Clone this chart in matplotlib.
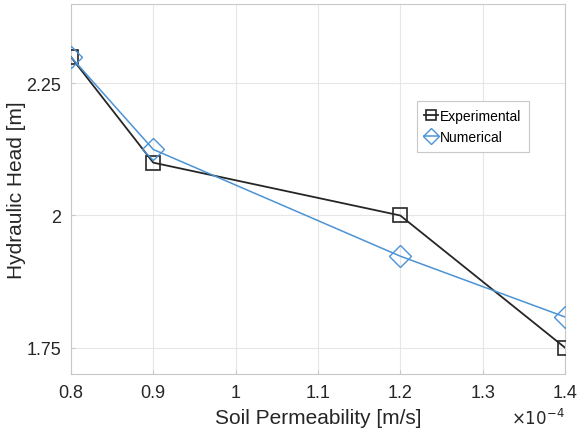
import matplotlib.pyplot as plt
from matplotlib.ticker import FuncFormatter

# soil permeability (m/s) and hydraulic head (m)
permeability = [0.8e-4, 0.9e-4, 1.2e-4, 1.4e-4]
head_experimental = [2.30, 2.10, 2.00, 1.75]
head_numerical = [2.30, 2.125, 1.923, 1.808]

xticks = [0.8e-4, 0.9e-4, 1.0e-4, 1.1e-4, 1.2e-4, 1.3e-4, 1.4e-4]
yticks = [1.75, 2.0, 2.25]
ytick_labels = ['1.75', '2', '2.25']

plt.rcParams['font.family'] = ['Liberation Sans', 'DejaVu Sans']

fig = plt.figure(figsize=(5.77, 4.31), dpi=100)
ax = fig.add_axes([0.123, 0.130, 0.856, 0.858])

ax.plot(permeability, head_experimental, color='#262626', lw=1.3,
        marker='s', markersize=10, markerfacecolor='none',
        markeredgewidth=1.2, label='Experimental', zorder=3)
ax.plot(permeability, head_numerical, color='#4b93d4', lw=1.1,
        marker='D', markersize=11, markerfacecolor='none',
        markeredgewidth=1.0, label='Numerical', zorder=3)

ax.set_xlim(0.8e-4, 1.4e-4)
ax.set_ylim(1.7, 2.4)
ax.set_xticks(xticks)
ax.xaxis.set_major_formatter(FuncFormatter(lambda v, p: '%g' % round(v * 1e4, 2)))
ax.set_yticks(yticks)
ax.set_yticklabels(ytick_labels)

ax.grid(True, color='#e6e6e6', lw=0.8)
ax.set_axisbelow(True)
for s in ax.spines.values():
    s.set_color('#c8c8c8')
    s.set_linewidth(0.8)
ax.tick_params(direction='in', length=3, color='#c8c8c8', labelsize=13,
               labelcolor='#262626', pad=7)

ax.set_xlabel('Soil Permeability [m/s]', fontsize=15, color='#262626', labelpad=5)
ax.set_ylabel('Hydraulic Head [m]', fontsize=15, color='#262626', labelpad=0)
ax.text(1.0, -0.115, r'$\times10^{-4}$', transform=ax.transAxes,
        ha='right', va='center', fontsize=12, color='#262626',
        math_fontfamily='dejavusans')

leg = ax.legend(loc='upper left', bbox_to_anchor=(0.700, 0.738), fontsize=10,
                borderaxespad=0, handlelength=1.0, handletextpad=0.1,
                borderpad=0.55, labelspacing=0.55, fancybox=False, framealpha=1,
                edgecolor='#c8c8c8', markerscale=0.7)
leg.get_frame().set_linewidth(0.8)

fig.savefig('out.png', dpi=100)
